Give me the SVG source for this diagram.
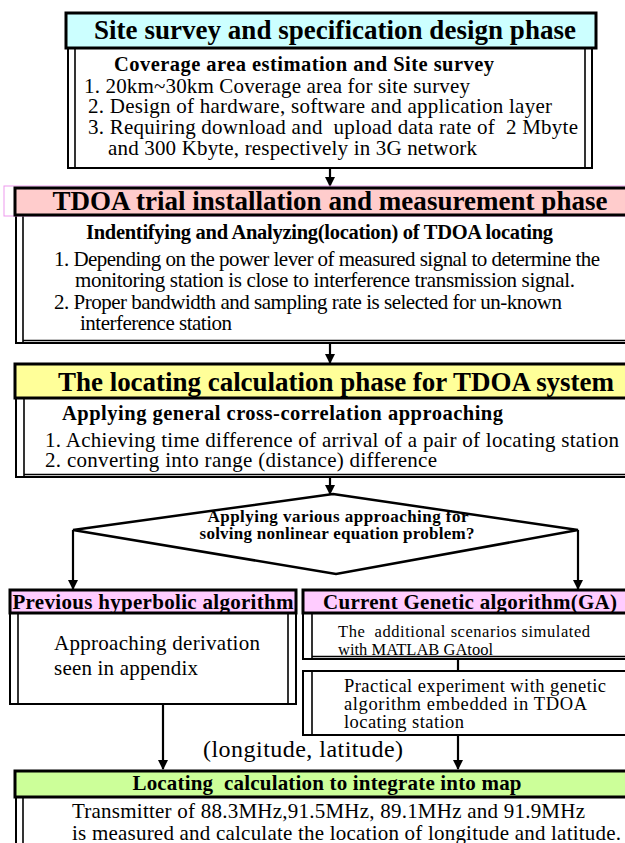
<svg xmlns="http://www.w3.org/2000/svg" width="625" height="843" viewBox="0 0 625 843">
<style>
.hdr{stroke:#000;stroke-width:3}
.body{fill:#fff;stroke:#000;stroke-width:2}
.ln{stroke:#000;stroke-width:1.6;fill:none}
.conn{stroke:#000;stroke-width:2.2;fill:none}
text{font-family:"Liberation Serif","Times New Roman",serif;fill:#000}
.t{font-size:27px;font-weight:bold}
.st{font-size:20.5px;font-weight:bold}
.hb{font-size:21px;font-weight:bold}
.r{font-size:21px}
</style>
<defs>
<marker id="ah" markerWidth="10" markerHeight="12" refX="9" refY="5" orient="auto" markerUnits="userSpaceOnUse">
<path d="M0,0 L10,5 L0,10 Z" fill="#000"/>
</marker>
</defs>
<rect width="625" height="843" fill="#fff"/>

<g id="connectors">
<line class="conn" x1="330" y1="168" x2="330" y2="186" marker-end="url(#ah)"/>
<line class="conn" x1="330" y1="344" x2="330" y2="363" marker-end="url(#ah)"/>
<line class="conn" x1="330" y1="477" x2="330" y2="494" marker-end="url(#ah)"/>
<polyline class="conn" points="73,530 73,589" marker-end="url(#ah)"/>
<polyline class="conn" points="578,530 578,589" marker-end="url(#ah)"/>
<line class="conn" x1="458" y1="660" x2="458" y2="671"/>
<line class="conn" x1="163" y1="705" x2="163" y2="769" marker-end="url(#ah)"/>
<line class="conn" x1="458" y1="735" x2="458" y2="769" marker-end="url(#ah)"/>
</g>

<g id="site-survey">
<rect class="body" x="68" y="48" width="524" height="120"/>
<line class="ln" x1="75" y1="48" x2="75" y2="168"/>
<line class="ln" x1="585" y1="48" x2="585" y2="168"/>
<rect class="hdr" x="66" y="13" width="530" height="35" fill="#ccffff"/>
<text class="t" x="335" y="39" text-anchor="middle" textLength="482">Site survey and specification design phase</text>
<text class="st" x="114" y="71" textLength="380">Coverage area estimation and Site survey</text>
<text class="r" x="84" y="93" textLength="386">1. 20km~30km Coverage area for site survey</text>
<text class="r" x="88" y="113" textLength="464">2. Design of hardware, software and application layer</text>
<text class="r" x="88" y="134" textLength="490" xml:space="preserve">3. Requiring download and  upload data rate of  2 Mbyte</text>
<text class="r" x="108" y="155" textLength="369">and 300 Kbyte, respectively in 3G network</text>
</g>

<g id="tdoa-trial">
<rect class="body" x="16" y="215" width="620" height="128"/>
<line class="ln" x1="23" y1="215" x2="23" y2="343"/>
<line class="ln" x1="23" y1="340.5" x2="625" y2="340.5"/>
<rect x="4" y="186" width="630" height="30" fill="none" stroke="#ee99ee" stroke-width="1"/>
<rect class="hdr" x="15" y="188" width="620" height="27" fill="#ffcccc"/>
<text class="t" x="330" y="210" text-anchor="middle" textLength="555">TDOA trial installation and measurement phase</text>
<text class="st" x="86" y="239" textLength="467">Indentifying and Analyzing(location) of TDOA locating</text>
<text class="r" x="54" y="266" textLength="546">1. Depending on the power lever of measured signal to determine the</text>
<text class="r" x="75" y="287" textLength="500">monitoring station is close to interference transmission signal.</text>
<text class="r" x="54" y="309" textLength="508">2. Proper bandwidth and sampling rate is selected for un-known</text>
<text class="r" x="80" y="330" textLength="152">interference station</text>
</g>

<g id="locating-calc">
<rect class="body" x="16" y="398" width="620" height="79"/>
<line class="ln" x1="24" y1="398" x2="24" y2="477"/>
<line class="ln" x1="24" y1="474.5" x2="625" y2="474.5"/>
<rect class="hdr" x="15" y="364" width="620" height="34" fill="#ffff99"/>
<text class="t" x="336" y="391" text-anchor="middle" textLength="556">The locating calculation phase for TDOA system</text>
<text class="st" x="62" y="420" textLength="441">Applying general cross-correlation approaching</text>
<text class="r" x="45" y="447" textLength="574">1. Achieving time difference of arrival of a pair of locating station</text>
<text class="r" x="45" y="467" textLength="392">2. converting into range (distance) difference</text>
</g>

<g id="decision">
<polygon points="333,494 578,530 336,574 73,530" fill="#fff" stroke="#000" stroke-width="2.5"/>
<text x="338" y="522" text-anchor="middle" font-size="17" font-weight="bold" textLength="261">Applying various approaching for</text>
<text x="337" y="539" text-anchor="middle" font-size="17" font-weight="bold" textLength="275">solving nonlinear equation problem?</text>
</g>

<g id="hyperbolic">
<rect class="body" x="10" y="613" width="286" height="91"/>
<line class="ln" x1="18" y1="613" x2="18" y2="704"/>
<line class="ln" x1="288" y1="613" x2="288" y2="704"/>
<rect class="hdr" x="10" y="590" width="286" height="23" fill="#ffccff"/>
<text class="hb" x="153" y="609" text-anchor="middle" textLength="281">Previous hyperbolic algorithm</text>
<text class="r" x="54" y="650" textLength="206">Approaching derivation</text>
<text class="r" x="54" y="675" textLength="144">seen in appendix</text>
</g>

<g id="genetic">
<rect class="body" x="303" y="613" width="330" height="46"/>
<line class="ln" x1="312" y1="613" x2="312" y2="659"/>
<line class="ln" x1="312" y1="656.5" x2="625" y2="656.5"/>
<rect class="body" x="303" y="671" width="330" height="64"/>
<line class="ln" x1="312" y1="671" x2="312" y2="735"/>
<rect class="hdr" x="303" y="590" width="330" height="23" fill="#ffccff"/>
<text class="hb" x="470" y="609" text-anchor="middle" textLength="294">Current Genetic algorithm(GA)</text>
<text x="338" y="637" font-size="16.5" textLength="252" xml:space="preserve">The  additional scenarios simulated</text>
<text x="338" y="655" font-size="16.5" textLength="155">with MATLAB GAtool</text>
<text x="344" y="692" font-size="18.5" textLength="262">Practical experiment with genetic</text>
<text x="344" y="710" font-size="18.5" textLength="243">algorithm embedded in TDOA</text>
<text x="344" y="728" font-size="18.5" textLength="120">locating station</text>
</g>

<g id="coord-label">
<text x="303" y="757" text-anchor="middle" font-size="24" textLength="200">(longitude, latitude)</text>
</g>

<g id="integrate-map">
<rect class="body" x="16" y="797" width="620" height="60"/>
<line class="ln" x1="23" y1="797" x2="23" y2="843"/>
<rect class="hdr" x="15" y="771" width="620" height="26" fill="#ccff99"/>
<text class="hb" x="327" y="790" text-anchor="middle" textLength="389" xml:space="preserve">Locating  calculation to integrate into map</text>
<text class="r" x="72" y="818" textLength="513">Transmitter of 88.3MHz,91.5MHz, 89.1MHz and 91.9MHz</text>
<text class="r" x="72" y="840" textLength="549">is measured and calculate the location of longitude and latitude.</text>
</g>
</svg>
